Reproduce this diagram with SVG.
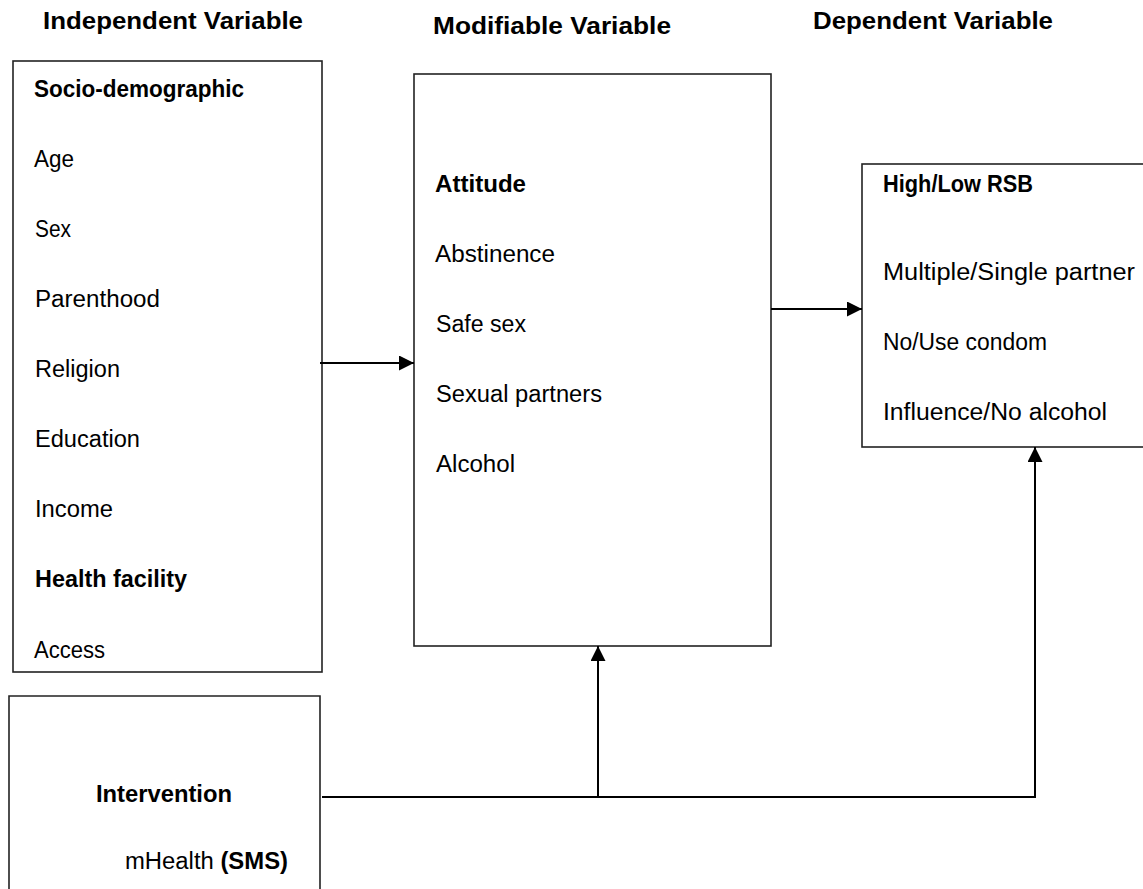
<svg xmlns="http://www.w3.org/2000/svg" width="1143" height="889" viewBox="0 0 1143 889">
<style>
text{font-family:"Liberation Sans",Arial,sans-serif;font-size:23px;fill:#000}
.b{font-weight:bold}
.box{fill:#fff;stroke:#222;stroke-width:1.6}
.ln{fill:none;stroke:#000;stroke-width:2}
</style>
<defs>
<marker id="ah" viewBox="0 0 10 10" refX="10" refY="5" markerWidth="7.5" markerHeight="7.5" orient="auto" markerUnits="strokeWidth">
<path d="M0,0 L10,5 L0,10 z" fill="#000"/>
</marker>
</defs>
<rect width="1143" height="889" fill="#fff"/>
<g id="headers">
<text class="b" x="43" y="29" textLength="260" lengthAdjust="spacingAndGlyphs">Independent Variable</text>
<text class="b" x="433" y="34" textLength="238" lengthAdjust="spacingAndGlyphs">Modifiable Variable</text>
<text class="b" x="813" y="29" textLength="240" lengthAdjust="spacingAndGlyphs">Dependent Variable</text>
</g>
<g id="independent">
<rect class="box" x="13" y="61" width="309" height="611"/>
<text class="b" x="34" y="97" textLength="210" lengthAdjust="spacingAndGlyphs">Socio-demographic</text>
<text x="34" y="167" textLength="40" lengthAdjust="spacingAndGlyphs">Age</text>
<text x="35" y="237" textLength="36" lengthAdjust="spacingAndGlyphs">Sex</text>
<text x="35" y="307" textLength="125" lengthAdjust="spacingAndGlyphs">Parenthood</text>
<text x="35" y="377" textLength="85" lengthAdjust="spacingAndGlyphs">Religion</text>
<text x="35" y="447" textLength="105" lengthAdjust="spacingAndGlyphs">Education</text>
<text x="35" y="517" textLength="78" lengthAdjust="spacingAndGlyphs">Income</text>
<text class="b" x="35" y="587" textLength="152" lengthAdjust="spacingAndGlyphs">Health facility</text>
<text x="34" y="658" textLength="71" lengthAdjust="spacingAndGlyphs">Access</text>
</g>
<g id="modifiable">
<rect class="box" x="414" y="74" width="357" height="572"/>
<text class="b" x="435" y="192" textLength="91" lengthAdjust="spacingAndGlyphs">Attitude</text>
<text x="435" y="262" textLength="120" lengthAdjust="spacingAndGlyphs">Abstinence</text>
<text x="436" y="332" textLength="90" lengthAdjust="spacingAndGlyphs">Safe sex</text>
<text x="436" y="402" textLength="166" lengthAdjust="spacingAndGlyphs">Sexual partners</text>
<text x="436" y="472" textLength="79" lengthAdjust="spacingAndGlyphs">Alcohol</text>
</g>
<g id="dependent">
<rect class="box" x="862" y="164" width="300" height="283"/>
<text class="b" x="883" y="192" textLength="150" lengthAdjust="spacingAndGlyphs">High/Low RSB</text>
<text x="883" y="280" textLength="252" lengthAdjust="spacingAndGlyphs">Multiple/Single partner</text>
<text x="883" y="350" textLength="164" lengthAdjust="spacingAndGlyphs">No/Use condom</text>
<text x="883" y="420" textLength="224" lengthAdjust="spacingAndGlyphs">Influence/No alcohol</text>
</g>
<g id="intervention">
<path class="box" d="M9,900 V696 H320 V900"/>
<text class="b" x="96" y="802" textLength="136" lengthAdjust="spacingAndGlyphs">Intervention</text>
<text x="125" y="869" textLength="163" lengthAdjust="spacingAndGlyphs">mHealth <tspan class="b">(SMS)</tspan></text>
</g>
<g id="connectors">
<line class="ln" x1="320" y1="363" x2="414" y2="363" marker-end="url(#ah)"/>
<line class="ln" x1="771" y1="309" x2="862" y2="309" marker-end="url(#ah)"/>
<polyline class="ln" points="322,797 1035,797 1035,447" marker-end="url(#ah)"/>
<line class="ln" x1="598" y1="797" x2="598" y2="646" marker-end="url(#ah)"/>
</g>
</svg>
